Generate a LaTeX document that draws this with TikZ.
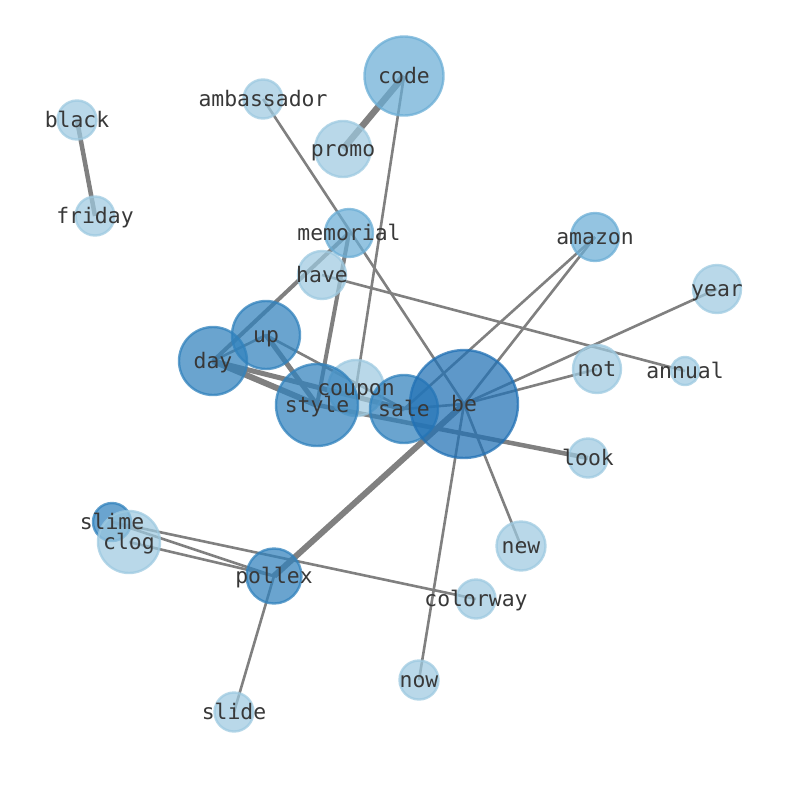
\documentclass[tikz,border=0pt]{standalone}
\usepackage{fontspec}
\setmonofont{DejaVu Sans Mono}
\definecolor{bedark}{HTML}{2171B5}
\definecolor{bemid}{HTML}{3182BD}
\definecolor{belight}{HTML}{6BAED6}
\definecolor{bepale}{HTML}{9ECAE1}
\definecolor{edgegrey}{HTML}{808080}
\definecolor{labelgrey}{HTML}{383838}
\tikzset{
  wordedge/.style={draw=edgegrey, line width=2.6pt},
  word/.style={fill=#1, fill opacity=0.72, draw=#1, draw opacity=0.75, line width=2.4pt},
  wordlabel/.style={font=\ttfamily\fontsize{21.4}{22}\selectfont, text=labelgrey,
    inner sep=0pt, text height=15pt, text depth=0pt},
}

\begin{document}
\begin{tikzpicture}[x=1pt,y=-1pt]
\path[use as bounding box, fill=white] (0,0) rectangle (794,790);

\coordinate (code) at (404,76);
\coordinate (ambassador) at (263,99);
\coordinate (promo) at (343,149);
\coordinate (black) at (77,120);
\coordinate (friday) at (95,216);
\coordinate (memorial) at (349,233);
\coordinate (amazon) at (595,237);
\coordinate (have) at (322,275);
\coordinate (year) at (717,289);
\coordinate (up) at (266,335);
\coordinate (day) at (213,361);
\coordinate (not) at (597,369);
\coordinate (annual) at (685,371);
\coordinate (coupon) at (356,388);
\coordinate (style) at (317,405);
\coordinate (sale) at (404,409);
\coordinate (be) at (464,404);
\coordinate (look) at (588,458);
\coordinate (slime) at (112,522);
\coordinate (clog) at (129,542);
\coordinate (new) at (521,546);
\coordinate (pollex) at (274,576);
\coordinate (colorway) at (476,599);
\coordinate (now) at (419,680);
\coordinate (slide) at (234,712);

% edges
\draw[wordedge, line width=4.5pt] (black) -- (friday);
\draw[wordedge, line width=6.5pt] (code) -- (promo);
\draw[wordedge] (code) -- (coupon);
\draw[wordedge] (ambassador) -- (be);
\draw[wordedge, line width=4pt] (memorial) -- (day);
\draw[wordedge, line width=4pt] (memorial) -- (style);
\draw[wordedge] (have) -- (annual);
\draw[wordedge] (up) -- (day);
\draw[wordedge, line width=5pt] (up) -- (style);
\draw[wordedge] (up) -- (sale);
\draw[wordedge, line width=6pt] (day) -- (style);
\draw[wordedge, line width=5pt] (day) -- (sale);
\draw[wordedge, line width=4.5pt] (style) -- (look);
\draw[wordedge] (sale) -- (be);
\draw[wordedge] (sale) -- (amazon);
\draw[wordedge] (be) -- (amazon);
\draw[wordedge] (be) -- (year);
\draw[wordedge] (be) -- (not);
\draw[wordedge] (be) -- (new);
\draw[wordedge] (be) -- (now);
\draw[wordedge, line width=6pt] (be) -- (pollex);
\draw[wordedge] (slime) -- (colorway);
\draw[wordedge] (slime) -- (pollex);
\draw[wordedge] (clog) -- (pollex);
\draw[wordedge] (pollex) -- (slide);

% circles
\draw[word=belight] (code) circle [radius=39.5pt];
\draw[word=bepale] (ambassador) circle [radius=19.5pt];
\draw[word=bepale] (promo) circle [radius=28pt];
\draw[word=bepale] (black) circle [radius=19.5pt];
\draw[word=bepale] (friday) circle [radius=19.5pt];
\draw[word=belight] (memorial) circle [radius=24pt];
\draw[word=belight] (amazon) circle [radius=24pt];
\draw[word=bepale] (have) circle [radius=24pt];
\draw[word=bepale] (year) circle [radius=24pt];
\draw[word=bemid] (up) circle [radius=34pt];
\draw[word=bemid] (day) circle [radius=34pt];
\draw[word=bepale] (not) circle [radius=24pt];
\draw[word=bepale] (annual) circle [radius=14pt];
\draw[word=bepale] (coupon) circle [radius=28pt];
\draw[word=bemid] (style) circle [radius=41pt];
\draw[word=bemid] (sale) circle [radius=34pt];
\draw[word=bedark] (be) circle [radius=54pt];
\draw[word=bepale] (look) circle [radius=19.5pt];
\draw[word=bemid] (slime) circle [radius=19pt];
\draw[word=bepale] (clog) circle [radius=31pt];
\draw[word=bepale] (new) circle [radius=24.5pt];
\draw[word=bemid] (pollex) circle [radius=27.5pt];
\draw[word=bepale] (colorway) circle [radius=19.5pt];
\draw[word=bepale] (now) circle [radius=19.5pt];
\draw[word=bepale] (slide) circle [radius=19.5pt];

% labels
\node[wordlabel] (code-l) at (code) {code};
\node[wordlabel] (ambassador-l) at (ambassador) {ambassador};
\node[wordlabel] (promo-l) at (promo) {promo};
\node[wordlabel] (black-l) at (black) {black};
\node[wordlabel] (friday-l) at (friday) {friday};
\node[wordlabel] (memorial-l) at (memorial) {memorial};
\node[wordlabel] (amazon-l) at (amazon) {amazon};
\node[wordlabel] (have-l) at (have) {have};
\node[wordlabel] (year-l) at (year) {year};
\node[wordlabel] (up-l) at (up) {up};
\node[wordlabel] (day-l) at (day) {day};
\node[wordlabel] (not-l) at (not) {not};
\node[wordlabel] (annual-l) at (annual) {annual};
\node[wordlabel] (coupon-l) at (coupon) {coupon};
\node[wordlabel] (style-l) at (style) {style};
\node[wordlabel] (sale-l) at (sale) {sale};
\node[wordlabel] (be-l) at (be) {be};
\node[wordlabel] (look-l) at (look) {look};
\node[wordlabel] (slime-l) at (slime) {slime};
\node[wordlabel] (clog-l) at (clog) {clog};
\node[wordlabel] (new-l) at (new) {new};
\node[wordlabel] (pollex-l) at (pollex) {pollex};
\node[wordlabel] (colorway-l) at (colorway) {colorway};
\node[wordlabel] (now-l) at (now) {now};
\node[wordlabel] (slide-l) at (slide) {slide};
\end{tikzpicture}
\end{document}
